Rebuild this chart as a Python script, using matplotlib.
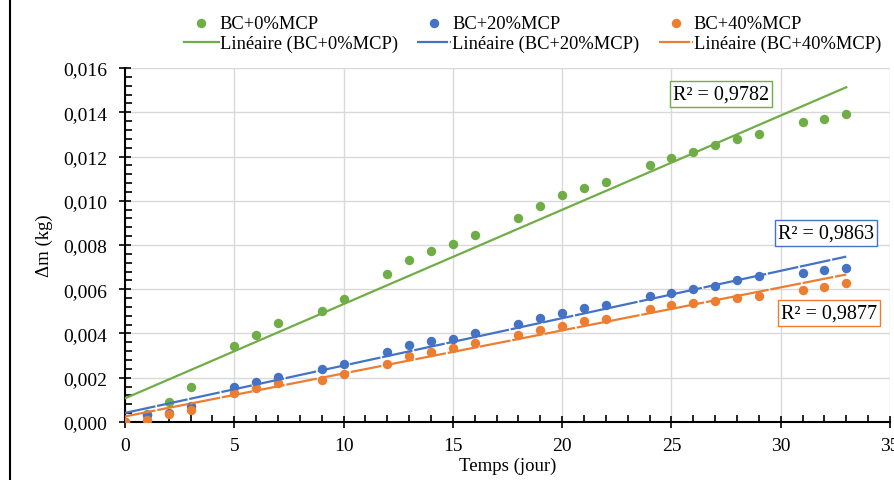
import numpy as np
import matplotlib
matplotlib.use("Agg")
import matplotlib.pyplot as plt
from matplotlib.lines import Line2D
from matplotlib.ticker import MultipleLocator, FuncFormatter

# Data
days = [0, 1, 2, 3, 5, 6, 7, 9, 10, 12, 13, 14, 15, 16, 18, 19, 20, 21, 22,
        24, 25, 26, 27, 28, 29, 31, 32, 33]
bc_0 = [0.0, 0.00036, 0.0009, 0.00158, 0.00344, 0.00392, 0.00447, 0.00501, 0.00556,
        0.00668, 0.00732, 0.00771, 0.00805, 0.00847, 0.00923, 0.00976, 0.01026,
        0.01059, 0.01085, 0.0116, 0.01192, 0.0122, 0.01252, 0.01279, 0.013,
        0.01355, 0.0137, 0.01392]
bc_20 = [0.0, 0.0003, 0.00041, 0.00074, 0.00158, 0.0018, 0.00203, 0.00238, 0.00264,
         0.00317, 0.0035, 0.00365, 0.00377, 0.00403, 0.00445, 0.00468, 0.00491,
         0.00514, 0.00529, 0.00571, 0.00582, 0.006, 0.00615, 0.00642, 0.00658,
         0.00673, 0.00685, 0.00695]
bc_40 = [0.0, 0.0001, 0.00036, 0.00056, 0.00132, 0.00153, 0.00176, 0.00188, 0.00218,
         0.00264, 0.00299, 0.00317, 0.00336, 0.00355, 0.00392, 0.00418, 0.00435,
         0.00456, 0.00465, 0.0051, 0.00529, 0.0054, 0.00549, 0.00562, 0.00571,
         0.00597, 0.00609, 0.0063]
names = ["BC+0%MCP", "BC+20%MCP", "BC+40%MCP"]
r2_labels = ["R² = 0,9782", "R² = 0,9863", "R² = 0,9877"]

colors = ["#70AD47", "#4472C4", "#ED7D31"]

plt.rcParams['font.family'] = ['Liberation Serif', 'DejaVu Serif']

fig = plt.figure(figsize=(8.94, 4.81), dpi=100)
ax = fig.add_axes([0.1398, 0.1206, 0.8557, 0.7359])

x = np.array(days, dtype=float)
series = [bc_0, bc_20, bc_40]

scatters = []
for vals, c, n in zip(series, colors, names):
    sc = ax.scatter(x, vals, s=46, color=c, zorder=3, label=n, linewidths=0)
    scatters.append(sc)

# linear trend lines (least squares on the points above)
fit_lines = []
dash_styles = [None, (14, 0.8), (14, 0.8)]
for vals, c, n, d in zip(series, colors, names, dash_styles):
    slope, icpt = np.polyfit(x, vals, 1)
    xx = np.array([0, 33])
    ln, = ax.plot(xx, slope * xx + icpt, color=c, lw=1.6, zorder=4,
                  label=f"Linéaire ({n})")
    if d is not None:
        ln.set_dashes(d)
    fit_lines.append(ln)

# R² boxes
r2_pos = [(721, 95), (826, 234), (829, 314)]
for (px, py), txt, c in zip(r2_pos, r2_labels, colors):
    fig.text(px / 894, 1 - py / 481, txt, ha='center', va='center', fontsize=14.5,
             bbox=dict(boxstyle='square,pad=0.15', fc='white', ec=c, lw=1.0),
             zorder=6)

ax.set_xlim(0, 35)
ax.set_ylim(0, 0.016)
ax.xaxis.set_major_locator(MultipleLocator(5))
ax.xaxis.set_minor_locator(MultipleLocator(1))
ax.yaxis.set_major_locator(MultipleLocator(0.002))
ax.yaxis.set_minor_locator(MultipleLocator(0.0004))
ax.yaxis.set_major_formatter(FuncFormatter(lambda v, p: f"{v:.3f}".replace('.', ',')))

ax.tick_params(axis='both', which='major', labelsize=14, direction='inout', length=8,
               width=1.2, color='black')
ax.tick_params(axis='both', which='minor', direction='in', length=5, width=1.2)
ax.tick_params(axis='y', which='major', pad=9)
ax.tick_params(axis='x', which='major', pad=7)

ax.grid(True, which='major', color='#d9d9d9', lw=1.0, zorder=0)
ax.set_axisbelow(True)
for s in ['top', 'right']:
    ax.spines[s].set_visible(False)
for s in ['left', 'bottom']:
    ax.spines[s].set_linewidth(1.5)

ax.set_xlabel("Temps (jour)", fontsize=13.5, labelpad=2)
ax.set_ylabel("Δm (kg)", fontsize=13.5, labelpad=7)

# legend: column-major order so each column holds points + trend line
handles = []
for sc, ln in zip(scatters, fit_lines):
    handles += [sc, ln]
fig.legend(handles=handles, loc='center', bbox_to_anchor=(0.596, 0.928),
           ncol=3, frameon=False, fontsize=13.3, handlelength=1.85,
           handletextpad=0.05, columnspacing=1.05, labelspacing=0.15,
           borderpad=0, borderaxespad=0)

# thin frame line on the left edge of the picture
fig.add_artist(Line2D([10 / 894, 10 / 894], [0, 1], color='black', lw=1.5))

fig.savefig("out.png", dpi=100)
